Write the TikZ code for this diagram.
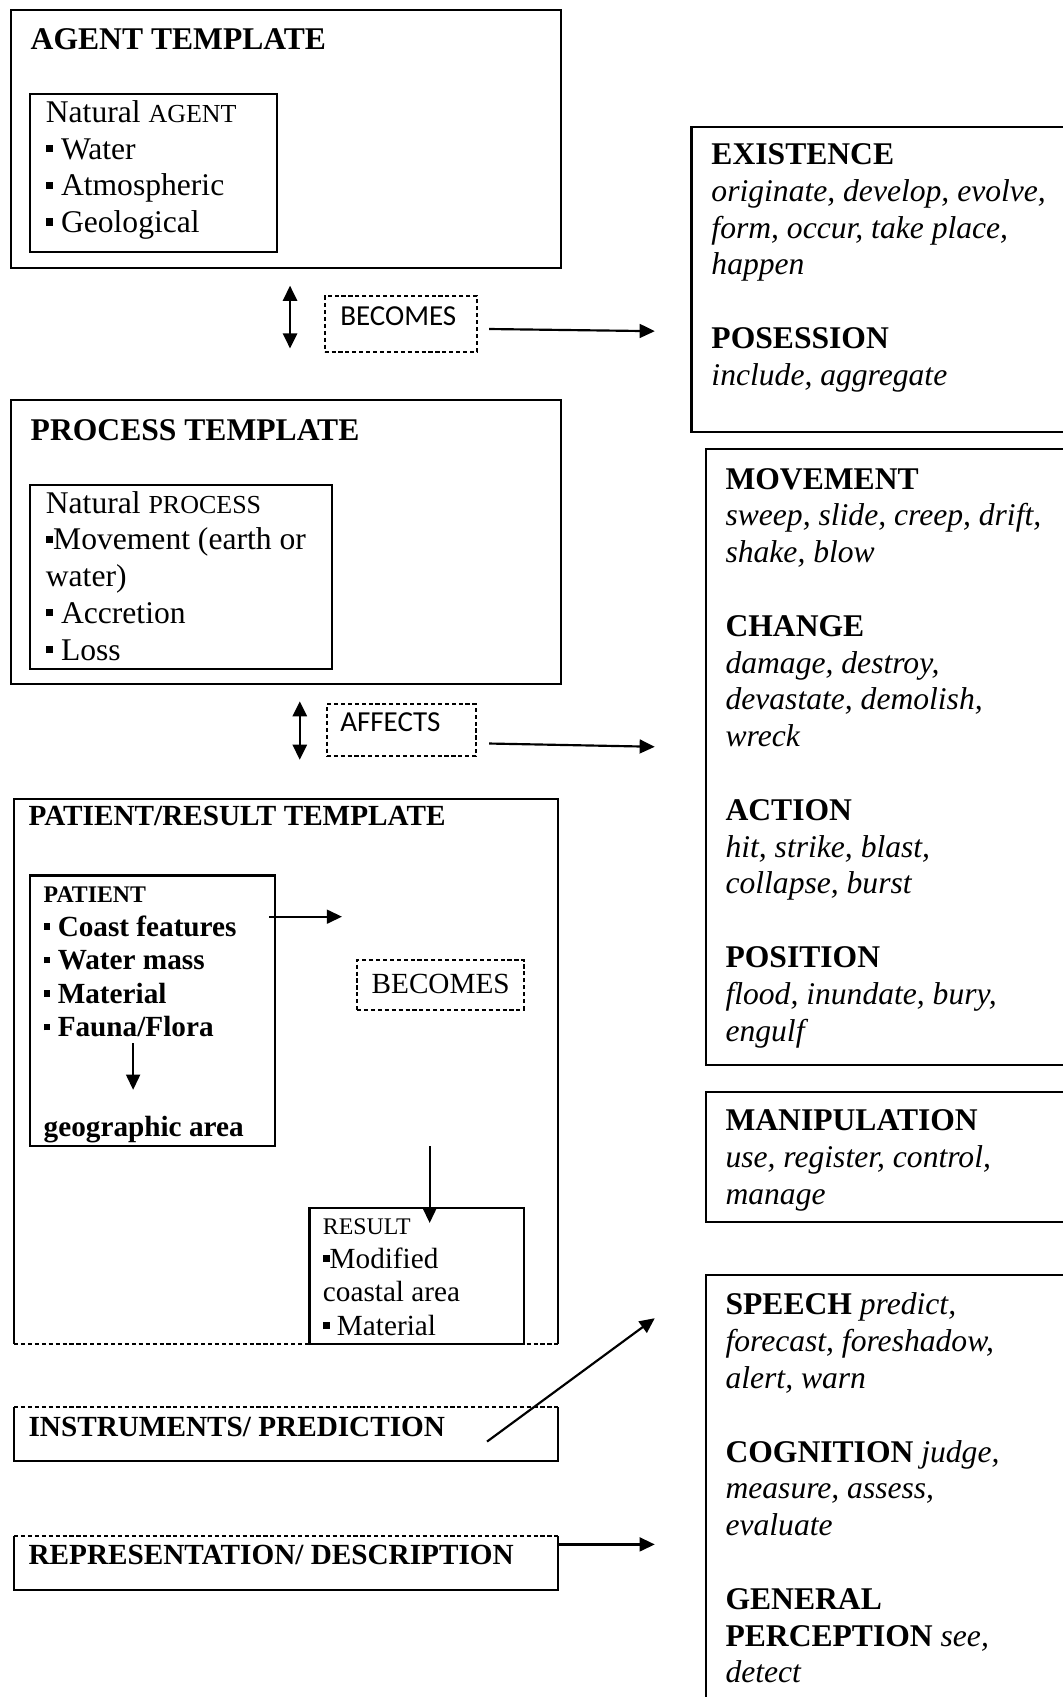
\documentclass[tikz,border=0pt]{standalone}
\usepackage{fontspec}
\setmainfont{Liberation Serif}
\newfontfamily\calib{Carlito}
\usetikzlibrary{arrows.meta}

% small square bullet
\newcommand\sqb{\raisebox{0.22em}{\rule{0.23em}{0.23em}}}
% stacked lines, baseline on the first line
\newcommand\rows[1]{\begin{tabular}[t]{@{}l@{}}#1\end{tabular}}
\newcommand\fbig{\fontsize{14.6}{17}\selectfont}
\newcommand\fmid{\fontsize{13.5}{15.5}\selectfont}
\newcommand\fsc{\fontsize{12}{17}\selectfont}
\newcommand\fscm{\fontsize{11}{15.5}\selectfont}

\begin{document}
\begin{tikzpicture}[x=0.5pt,y=-0.5pt,
  wh/.style 2 args={minimum width=#1*0.5pt, minimum height=#2*0.5pt},
  frame/.style={draw, line width=0.95pt, inner sep=0, anchor=north west},
  open/.style={inner sep=0, anchor=north west},
  dframe/.style={draw, line width=0.9pt, dash pattern=on 1.9pt off 1.3pt, inner sep=0, anchor=north west},
  solidedge/.style={line width=0.95pt},
  dashedge/.style={line width=0.9pt, dash pattern=on 1.9pt off 1.3pt},
  txt/.style={inner sep=0, anchor=base west},
  arr/.style={line width=1pt, -{Triangle[length=7pt,width=6.4pt]}},
  darr/.style={line width=1pt, {Triangle[length=7pt,width=6.6pt]}-{Triangle[length=7pt,width=6.6pt]}},
]
\useasboundingbox (0,0) rectangle (982,1568);
\clip (0,0) rectangle (982,1568);

% ---------- agent template ----------
\node[frame, wh={508}{239}] (agent) at (9,8) {};
\node[txt, font=\fbig\bfseries] (agentT) at (28,46) {AGENT TEMPLATE};
\node[frame, wh={228}{146}] (agentIn) at (27,86) {};
\node[txt, font=\fbig] (agentL) at (42,113)
  {\rows{Natural {\fsc AGENT}\\ \sqb{} Water\\ \sqb{} Atmospheric\\ \sqb{} Geological}};

% ---------- becomes (1) ----------
\coordinate (d1a) at (268,264);
\coordinate (d1b) at (268,322);
\draw[darr] (d1a) -- (d1b);
\node[dframe, wh={141}{51}] (bec1) at (299,273) {};
\node[txt, font=\calib\fontsize{13.4}{16}\selectfont] (bec1T) at (314,301) {BECOMES};
\coordinate (a1s) at (452,304);
\coordinate (a1e) at (605,306);
\draw[arr] (a1s) -- (a1e);

% ---------- process template ----------
\node[frame, wh={508}{262}] (proc) at (9,369) {};
\node[txt, font=\fbig\bfseries] (procT) at (28,407) {PROCESS TEMPLATE};
\node[frame, wh={279}{170}] (procIn) at (27,447) {};
\node[txt, font=\fbig] (procL) at (42,474)
  {\rows{Natural {\fsc PROCESS}\\ \sqb Movement (earth or\\ water)\\ \sqb{} Accretion\\ \sqb{} Loss}};

% ---------- affects ----------
\coordinate (d2a) at (277,648);
\coordinate (d2b) at (277,702);
\draw[darr] (d2a) -- (d2b);
\node[dframe, wh={138}{48}] (aff) at (301,650) {};
\node[txt, font=\calib\fontsize{13.4}{16}\selectfont] (affT) at (314,676) {AFFECTS};
\coordinate (a2s) at (452,687);
\coordinate (a2e) at (605,690);
\draw[arr] (a2s) -- (a2e);

% ---------- patient / result template ----------
\node[open, wh={502}{503}] (pat) at (13,738) {};
\draw[solidedge] (pat.south west) -- (pat.north west) -- (pat.north east) -- (pat.south east);
\draw[dashedge] (pat.south west) -- (pat.south east);
\node[txt, font=\fmid\bfseries] (patT) at (26,763) {PATIENT/RESULT TEMPLATE};

\node[frame, wh={226}{250}] (patIn) at (27,808) {};
\node[txt, font=\fmid\bfseries] (patL) at (40,834)
  {\rows{{\fscm PATIENT}\\ \sqb{} Coast features\\ \sqb{} Water mass\\ \sqb{} Material\\ \sqb{} Fauna/Flora}};
\node[txt, font=\fmid\bfseries] (geo) at (40,1050) {geographic area};
\coordinate (g1) at (123,964);
\coordinate (g2) at (123,1007);
\draw[arr] (g1) -- (g2);

\coordinate (p1) at (249,847);
\coordinate (p2) at (316,847);
\draw[arr] (p1) -- (p2);

\node[dframe, wh={154}{46}] (bec2) at (329,886) {};
\node[txt, font=\fmid] (bec2T) at (343,918) {BECOMES};

\node[frame, wh={198}{126}] (res) at (285,1115) {};
\node[txt, font=\fmid] (resL) at (298,1141)
  {\rows{{\fscm RESULT}\\ \sqb Modified\\ coastal area\\ \sqb{} Material}};
\coordinate (r1) at (397,1059);
\coordinate (r2) at (397,1130);
\draw[arr] (r1) -- (r2);

% ---------- instruments / prediction ----------
\node[open, wh={502}{49}] (inst) at (13,1300) {};
\draw[solidedge] (inst.north west) -- (inst.south west) -- (inst.south east) -- (inst.north east);
\draw[dashedge] (inst.north west) -- (inst.north east);
\node[txt, font=\fmid\bfseries] (instT) at (26,1327) {INSTRUMENTS/ PREDICTION};
\coordinate (i1) at (450,1332);
\coordinate (i2) at (605,1218);
\draw[arr] (i1) -- (i2);

% ---------- representation / description ----------
\node[open, wh={502}{49}] (repr) at (13,1419) {};
\draw[solidedge] (repr.north west) -- (repr.south west) -- (repr.south east) -- (repr.north east);
\draw[dashedge] (repr.north west) -- (repr.north east);
\node[txt, font=\fmid\bfseries] (reprT) at (26,1446) {REPRESENTATION/ DESCRIPTION};
\coordinate (q1) at (515,1427);
\coordinate (q2) at (605,1427);
\draw[arr] (q1) -- (q2);

% ---------- verb classes ----------
\node[frame, wh={362}{282}] (exist) at (638,116) {};
\node[txt, font=\fbig] (existT) at (657,152)
  {\rows{\textbf{EXISTENCE}\\ \textit{originate, develop, evolve,}\\ \textit{form, occur, take place,}\\ \textit{happen}\\ \\ \textbf{POSESSION}\\ \textit{include, aggregate}}};

\node[frame, wh={349}{569}] (move) at (651,414) {};
\node[txt, font=\fbig] (moveT) at (670,452)
  {\rows{\textbf{MOVEMENT}\\ \textit{sweep, slide, creep, drift,}\\ \textit{shake, blow}\\ \\
   \textbf{CHANGE}\\ \textit{damage, destroy,}\\ \textit{devastate, demolish,}\\ \textit{wreck}\\ \\
   \textbf{ACTION}\\ \textit{hit, strike, blast,}\\ \textit{collapse, burst}\\ \\
   \textbf{POSITION}\\ \textit{flood, inundate, bury,}\\ \textit{engulf}}};

\node[frame, wh={349}{120}] (manip) at (651,1008) {};
\node[txt, font=\fbig] (manipT) at (670,1045)
  {\rows{\textbf{MANIPULATION}\\ \textit{use, register, control,}\\ \textit{manage}}};

\node[frame, wh={349}{440}] (speech) at (651,1177) {};
\node[txt, font=\fbig] (speechT) at (670,1215)
  {\rows{\textbf{SPEECH} \textit{predict,}\\ \textit{forecast, foreshadow,}\\ \textit{alert, warn}\\ \\
   \textbf{COGNITION} \textit{judge,}\\ \textit{measure, assess,}\\ \textit{evaluate}\\ \\
   \textbf{GENERAL}\\ \textbf{PERCEPTION} \textit{see,}\\ \textit{detect}}};
\end{tikzpicture}
\end{document}
